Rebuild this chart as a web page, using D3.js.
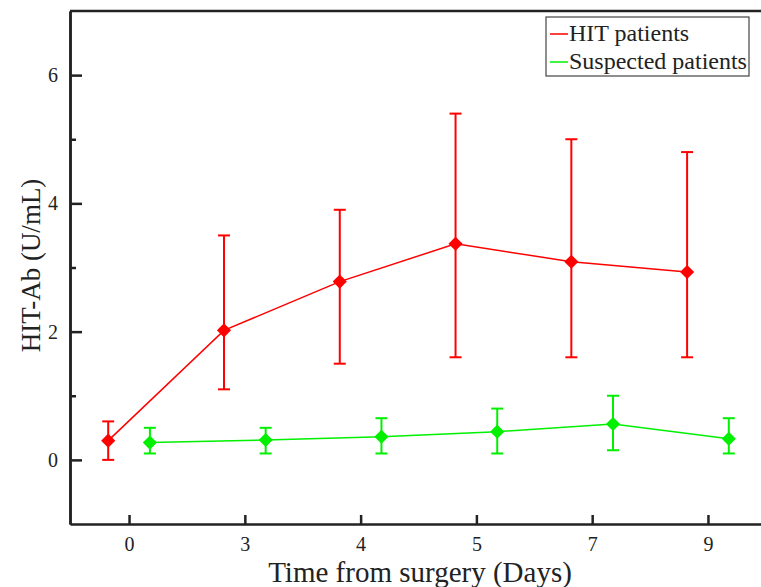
<!DOCTYPE html>
<html>
<head>
<meta charset="utf-8">
<script src="https://cdn.jsdelivr.net/npm/d3@7"></script>
<style>
  body { margin: 0; background: #fff; overflow: hidden; }
  text { font-family: "Liberation Serif", "Times New Roman", serif; fill: #222; }
</style>
</head>
<body>
<div id="chart"></div>
<script>
// categories (days after surgery)
const days = ['0', '3', '4', '5', '7', '9'];

// HIT patients: mean, lower, upper
const hitMean = [0.30, 2.02, 2.78, 3.37, 3.09, 2.93];
const hitLow  = [0.00, 1.10, 1.50, 1.60, 1.60, 1.60];
const hitHigh = [0.60, 3.50, 3.90, 5.40, 5.00, 4.80];

// suspected patients: mean, lower, upper
const susMean = [0.27, 0.31, 0.36, 0.44, 0.56, 0.33];
const susLow  = [0.10, 0.10, 0.10, 0.10, 0.15, 0.10];
const susHigh = [0.50, 0.50, 0.65, 0.80, 1.00, 0.65];

const yMajor = [0, 2, 4, 6];
const yMinor = [1, 3, 5];

const series = [
  { name: 'HIT patients', color: '#ff0000', offset: -0.18, mean: hitMean, low: hitLow, high: hitHigh },
  { name: 'Suspected patients', color: '#00f000', offset: 0.18, mean: susMean, low: susLow, high: susHigh }
];

const W = 761, H = 587;
const margin = { top: 11, right: -6, bottom: 63, left: 70 };
const serif = '"Liberation Serif", "Times New Roman", serif';

const svg = d3.select('#chart').append('svg')
  .attr('width', W)
  .attr('height', H);

const x = d3.scaleLinear()
  .domain([-0.51, days.length - 0.49])
  .range([margin.left, W - margin.right]);

const y = d3.scaleLinear()
  .domain([-1, 7])
  .range([H - margin.bottom, margin.top]);

// axes, ticks pointing inward
svg.append('g')
  .attr('transform', `translate(0,${H - margin.bottom})`)
  .call(d3.axisBottom(x).tickValues(d3.range(days.length)).tickFormat(i => days[i]).tickSizeInner(-9).tickSizeOuter(0).tickPadding(13));

svg.append('g')
  .attr('transform', `translate(${margin.left},0)`)
  .call(d3.axisLeft(y).tickValues(yMajor).tickSizeInner(-12).tickSizeOuter(0).tickPadding(12));

svg.append('g')
  .attr('transform', `translate(${margin.left},0)`)
  .call(d3.axisLeft(y).tickValues(yMinor).tickSizeInner(-6).tickSizeOuter(0).tickFormat(''));

svg.selectAll('.domain, .tick line')
  .attr('stroke', '#222')
  .attr('stroke-width', 2.5);

svg.selectAll('.tick text')
  .style('font-family', serif)
  .style('font-size', '20px')
  .attr('fill', '#222');

// top frame line
svg.append('line')
  .attr('x1', margin.left).attr('x2', W - margin.right)
  .attr('y1', y(7)).attr('y2', y(7))
  .attr('stroke', '#222').attr('stroke-width', 2.5);

// titles
svg.append('text')
  .attr('x', 420).attr('y', 582)
  .attr('text-anchor', 'middle')
  .style('font-size', '29px')
  .text('Time from surgery (Days)');

svg.append('text')
  .attr('transform', `translate(40,${(y(7) + y(-1)) / 2 - 2}) rotate(-90)`)
  .attr('text-anchor', 'middle')
  .style('font-size', '27px')
  .text('HIT-Ab (U/mL)');

// diamond = square turned by 45 degrees, about 14px corner to corner
const diamond = d3.symbol().type(d3.symbolSquare).size(100);

series.forEach(s => {
  const g = svg.append('g');
  const px = i => x(i + s.offset);

  g.append('path')
    .datum(s.mean)
    .attr('fill', 'none')
    .attr('stroke', s.color)
    .attr('stroke-width', 1.5)
    .attr('d', d3.line().x((d, i) => px(i)).y(d => y(d)));

  s.mean.forEach((m, i) => {
    g.append('line')
      .attr('x1', px(i)).attr('x2', px(i))
      .attr('y1', y(s.low[i])).attr('y2', y(s.high[i]))
      .attr('stroke', s.color).attr('stroke-width', 2);
    [s.low[i], s.high[i]].forEach(v => {
      g.append('line')
        .attr('x1', px(i) - 6).attr('x2', px(i) + 6)
        .attr('y1', y(v)).attr('y2', y(v))
        .attr('stroke', s.color).attr('stroke-width', 2);
    });
    g.append('path')
      .attr('d', diamond)
      .attr('transform', `translate(${px(i)},${y(m)}) rotate(45)`)
      .attr('fill', s.color);
  });
});

// legend
const legend = svg.append('g').attr('transform', 'translate(546,17)');
legend.append('rect')
  .attr('width', 203).attr('height', 59)
  .attr('fill', '#fff')
  .attr('stroke', '#444').attr('stroke-width', 1.2);

series.forEach((s, i) => {
  const ly = 17 + i * 28;
  legend.append('line')
    .attr('x1', 4).attr('x2', 22)
    .attr('y1', ly).attr('y2', ly)
    .attr('stroke', s.color).attr('stroke-width', 1.5);
  legend.append('text')
    .attr('x', 23).attr('y', ly + 7)
    .style('font-size', '24px')
    .text(s.name);
});
</script>
</body>
</html>
